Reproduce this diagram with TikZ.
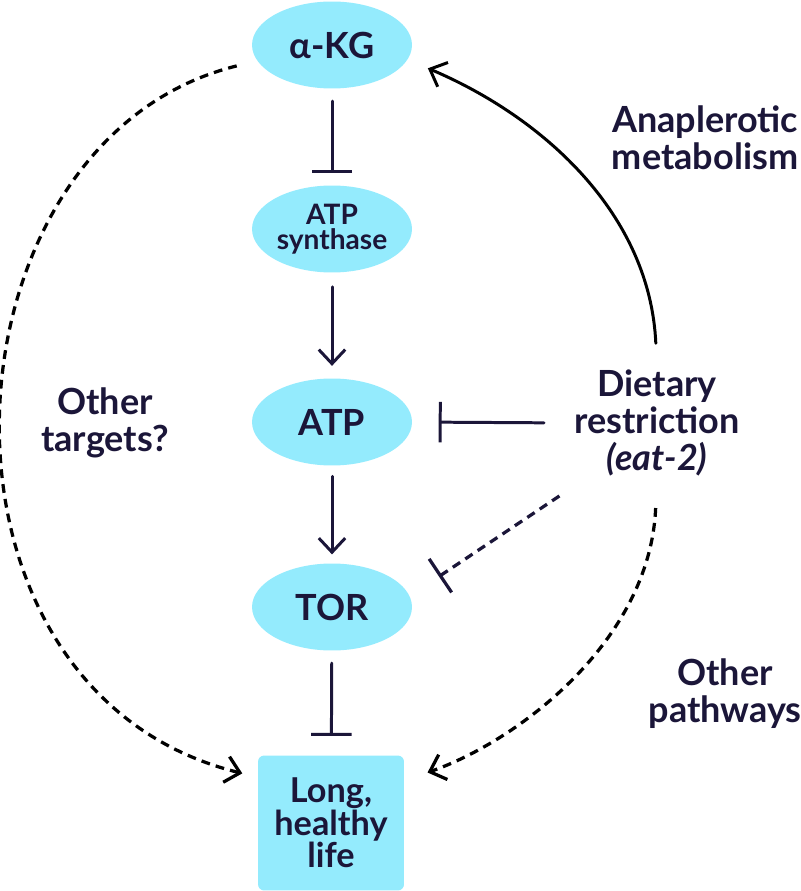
\documentclass[tikz,border=0pt]{standalone}
\usepackage{fontspec}
\setmainfont{Lato}
\usetikzlibrary{arrows.meta,shapes.geometric}
\definecolor{navy}{HTML}{1B1639}
\definecolor{skyfill}{HTML}{94EBFD}
\begin{document}
\begin{tikzpicture}[x=0.02cm,y=-0.02cm,line cap=round,line join=round,
    blob/.style={ellipse,fill=skyfill,minimum width=3.2cm,minimum height=1.74cm,inner sep=0pt,
      align=center,text=navy,font=\bfseries\fontsize{20.5}{20}\selectfont},
    lbl/.style={align=center,text=navy,inner sep=0pt,font=\bfseries\fontsize{20.5}{21}\selectfont},
    act/.style={draw=navy,line width=1.7pt,-{Straight Barb[length=8pt,width=15pt]}},
    inh/.style={draw=navy,line width=1.7pt,-{Bar[width=23pt]}},
    dashed act/.style={act,draw=black,line width=1.85pt,line cap=butt,dash pattern=on 5pt off 3.5pt},
    dashed inh/.style={inh,line width=1.85pt,line cap=butt,dash pattern=on 5pt off 3.5pt}]
  \useasboundingbox (0,0) rectangle (800,891);
  % main chain
  \node[blob] (akg) at (332,45) {α-KG};
  \node[blob,font=\bfseries\fontsize{16}{14.5}\selectfont] (atps) at (332,229) {ATP\\synthase};
  \node[blob] (atp) at (332,422) {ATP};
  \node[blob] (tor) at (332,607) {TOR};
  \node[rectangle,rounded corners=3.5pt,fill=skyfill,minimum width=2.92cm,minimum height=2.7cm,
    align=center,text=navy,font=\bfseries\fontsize{19.5}{18.5}\selectfont] (life) at (331,823) {Long,\\healthy\\life};
  % side labels
  \node[lbl] (targets) at (105,423) {Other\\targets?};
  \node[lbl] (diet) at (657,423) {Dietary\\restriction\\{\itshape(eat-2)}};
  \node[lbl] (anap) at (705,138) {Anaplerotic\\metabolism};
  \node[lbl] (paths) at (725,694) {Other\\pathways};
  % straight links
  \draw[inh,shorten <=7pt,shorten >=7pt] (akg) -- (atps);
  \draw[act,shorten <=8pt,shorten >=7pt] (atps) -- (atp);
  \draw[act,shorten <=6pt,shorten >=5pt] (atp) -- (tor);
  \draw[inh,shorten <=7pt,shorten >=11pt] (tor) -- (life);
  \draw[inh,shorten <=17pt,shorten >=15pt] (diet.west) -- (atp.east);
  \draw[dashed inh,shorten <=20pt,shorten >=20pt] (diet.218) -- (tor.8);
  % curved links
  \draw[act,draw=black,shorten <=15pt,shorten >=12.5pt] (diet.north) .. controls (650,215) and (545,118) .. (akg.-11);
  \draw[dashed act,shorten <=12pt,shorten >=9pt] (akg.192) .. controls (-65,140) and (-95,690) .. (life.148);
  \draw[dashed act,shorten <=18pt,shorten >=14pt] (diet.south) .. controls (650,640) and (520,740) .. (life.30);
\end{tikzpicture}
\end{document}
